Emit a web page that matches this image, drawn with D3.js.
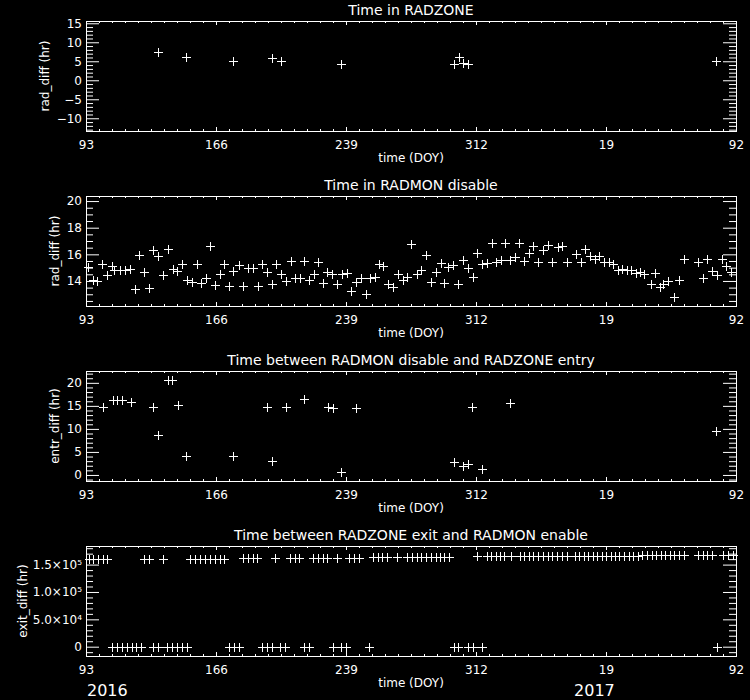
<!DOCTYPE html>
<html>
<head>
<meta charset="utf-8">
<script src="https://cdn.jsdelivr.net/npm/d3@7"></script>
<style>
  body { margin: 0; background: #000; }
  svg { display: block; }
</style>
</head>
<body>
<svg id="chart"></svg>
<script>
// x values are day numbers counted from 2016 Jan 0 (anything past 366 is 2017)
const xTickDays = [93, 166, 239, 312, 385, 458];
const xTickLabels = ["93", "166", "239", "312", "19", "92"];
const yearLabels = ["2016", "2017"];
const yearStartDays = [93, 366.5];

// Time in RADZONE
const radzoneDays = [133.6, 149.3, 175.7, 197.3, 202.5, 236.2, 299.6, 302.4, 304.9, 307.7, 446.7];
const radzoneHours = [7.4, 6.2, 5.0, 5.9, 5.0, 4.2, 4.2, 6.2, 4.5, 4.2, 5.0];

// Time in RADMON disable
const radmonDays = [94.3, 97.1, 99.3, 102.2, 104.6, 107.4, 108.7, 112.1, 114.9, 117.7,
  120.5, 122.9, 125.7, 128.5, 130.8, 133.6, 136.4, 139.2, 141.7, 144.3,
  147.1, 149.5, 152.4, 155.2, 157.4, 160.2, 162.6, 165.4, 168.2, 170.7,
  173.5, 175.7, 178.9, 181.3, 184.1, 186.9, 189.4, 191.7, 194.5, 197.3,
  199.7, 202.3, 205.1, 207.9, 210.4, 213.2, 215.6, 218.4, 221.0, 223.4,
  226.2, 228.5, 231.0, 233.8, 236.6, 239.4, 241.6, 244.6, 247.2, 250.1,
  252.5, 255.3, 257.7, 259.9, 262.7, 265.6, 268.4, 271.2, 273.1, 275.5,
  278.7, 281.1, 283.9, 286.6, 289.4, 292.2, 294.2, 296.4, 299.2, 302.1,
  304.9, 307.7, 310.1, 312.7, 315.5, 318.0, 320.8, 323.2, 326.0, 328.3,
  331.1, 333.9, 336.3, 339.1, 341.7, 344.2, 347.0, 349.4, 352.2, 354.8,
  357.9, 360.4, 362.9, 368.1, 370.8, 373.2, 376.0, 378.8, 381.2, 384.0,
  386.7, 389.1, 391.6, 394.1, 396.6, 399.0, 401.7, 404.1, 406.5, 410.2,
  412.5, 415.3, 417.2, 420.0, 423.3, 426.1, 429.0, 436.8, 439.3, 441.9,
  444.3, 447.1, 450.0, 452.4, 455.2];
const radmonHours = [15.07, 14.07, 14.0, 15.3, 14.45, 15.1, 14.85, 14.82, 14.82, 14.87,
  13.38, 15.95, 14.65, 13.45, 16.3, 15.87, 14.45, 16.4, 14.87, 14.75,
  15.25, 14.07, 13.9, 15.25, 13.87, 14.25, 16.65, 13.7, 14.5, 15.27,
  13.63, 14.75, 15.2, 13.63, 14.95, 14.95, 13.65, 15.25, 14.7, 13.78,
  15.3, 14.5, 14.0, 15.47, 14.25, 14.2, 15.5, 14.07, 14.5, 15.4,
  13.87, 14.7, 14.5, 13.78, 14.5, 14.62, 13.27, 13.95, 14.2, 13.03,
  14.25, 14.32, 15.3, 15.1, 13.78, 13.57, 14.5, 14.07, 14.32, 16.75,
  14.5, 14.82, 15.95, 13.9, 14.7, 15.33, 13.83, 15.07, 15.2, 13.78,
  15.57, 15.0, 14.32, 16.07, 15.25, 15.37, 16.82, 15.4, 15.57, 16.87,
  15.57, 15.82, 16.87, 15.52, 16.07, 16.62, 15.4, 16.32, 16.7, 15.4,
  16.57, 16.65, 15.4, 16.0, 15.4, 16.4, 15.87, 15.62, 15.87, 15.4,
  15.4, 15.25, 14.82, 14.87, 14.82, 14.82, 14.62, 14.7, 14.5, 13.78,
  14.62, 13.57, 13.78, 14.02, 12.78, 14.07, 15.62, 15.4, 14.2, 15.62,
  14.77, 14.45, 15.62, 15.15, 14.7];

// Time between RADMON disable and RADZONE entry
const entryDays = [102.4, 108.0, 110.6, 113.0, 118.1, 130.8, 133.6, 139.2, 141.5, 144.5,
  149.2, 175.7, 194.5, 197.3, 205.1, 215.6, 229.1, 231.9, 236.2, 244.4,
  299.6, 304.5, 307.7, 309.9, 315.5, 331.1, 446.7];
const entryHours = [14.76, 16.36, 16.36, 16.36, 15.85, 14.76, 8.72, 20.7, 20.7, 15.27,
  4.14, 4.14, 14.76, 3.12, 14.76, 16.58, 14.76, 14.55, 0.72, 14.55,
  2.9, 1.96, 2.4, 14.76, 1.24, 15.64, 9.6];

// Time between RADZONE exit and RADMON enable
const exitDays = [94.9, 97.1, 99.9, 102.4, 104.6, 125.7, 128.4, 136.4,
  151.4, 154.2, 157.0, 159.8, 162.6, 165.4, 168.2, 170.7,
  181.3, 184.1, 186.6, 189.2, 199.1, 207.5, 210.4, 212.8, 220.6, 223.4, 225.9, 228.5, 233.8, 240.8, 243.5, 246.3,
  254.3, 256.8, 259.4, 261.8, 267.5, 273.1, 276.2, 278.7, 281.1, 283.7, 286.7, 289.4, 291.8, 294.2, 296.8,
  312.4, 318.0, 320.4, 323.0, 325.5, 327.9,
  331.6, 336.7, 339.1, 341.7, 344.2, 347.0, 349.4, 352.2, 354.8, 357.3, 360.1, 362.9,
  367.6, 370.0, 372.6, 375.1, 377.5, 380.1, 382.6, 385.0, 387.6, 390.0, 392.5, 395.3, 397.9, 400.3, 402.8,
  405.4, 408.2, 410.6, 413.1, 415.7, 418.1, 420.9, 423.3, 426.0, 428.8,
  436.8, 439.3, 441.9, 444.3, 450.5, 453.3, 456.5,
  107.8, 110.2, 113.0, 115.8, 118.7, 121.1, 123.7, 130.4, 133.3, 138.6,
  141.5, 143.9, 146.7, 149.5, 173.5, 176.1, 178.9, 191.7, 194.5, 197.3,
  201.9, 204.7, 215.6, 218.4, 231.9, 236.0, 238.8, 252.1, 299.8, 302.1,
  307.7, 310.5, 315.5, 447.1];
const exitHours = [161000, 161000, 161000, 161000, 161000, 161000, 161000, 161000,
  161000, 161000, 161000, 161000, 161000, 161000, 161000, 161000,
  162300, 162300, 162300, 162300, 162300, 162300, 162300, 162300, 162300, 162300, 162300, 162300, 162300, 162300, 162300, 162300,
  164100, 164100, 164100, 164100, 164100, 164100, 164100, 164100, 164100, 164100, 164100, 164100, 164100, 164100, 164100,
  165000, 165000, 165000, 165000, 165000, 165000,
  166000, 166000, 166000, 166000, 166000, 166000, 166000, 166000, 166000, 166000, 166000, 166000,
  166500, 166500, 166500, 166500, 166500, 166500, 166500, 166500, 166500, 166500, 166500, 166500, 166500, 166500, 166500,
  168000, 168000, 168000, 168000, 168000, 168000, 168000, 168000, 168000, 168000,
  168400, 168400, 168400, 168400, 168400, 168400, 168400,
  0, 0, 0, 0, 0, 0, 0, 0, 0, 0,
  0, 0, 0, 0, 0, 0, 0, 0, 0, 0,
  0, 0, 0, 0, 0, 0, 0, 0, 0, 0,
  0, 0, 0, 0];

const minus = d => d < 0 ? "\u2212" + (-d) : String(d);
const sup = { 4: "\u2074", 5: "\u2075" };
const sciFmt = d => {
  if (d === 0) return "0";
  const e = Math.floor(Math.log10(d));
  return (d / Math.pow(10, e)).toFixed(1) + "\u00d710" + sup[e];
};

const panels = [
  { title: "Time in RADZONE", ylabel: "rad_diff (hr)", days: radzoneDays, values: radzoneHours,
    yDomain: [-13.35, 15.6], yMajor: [-10, -5, 0, 5, 10, 15], yMinorStep: 1, fmt: minus, ylabelX: 45 },
  { title: "Time in RADMON disable", ylabel: "rad_diff (hr)", days: radmonDays, values: radmonHours,
    yDomain: [12.12, 20.38], yMajor: [14, 16, 18, 20], yMinorStep: 0.5, fmt: minus, ylabelX: 55 },
  { title: "Time between RADMON disable and RADZONE entry", ylabel: "entr_diff (hr)", days: entryDays, values: entryHours,
    yDomain: [-1.31, 22.57], yMajor: [0, 5, 10, 15, 20], yMinorStep: 1, fmt: minus, ylabelX: 55 },
  { title: "Time between RADZONE exit and RADMON enable", ylabel: "exit_diff (hr)", days: exitDays, values: exitHours,
    yDomain: [-17000, 184000], yMajor: [0, 50000, 100000, 150000], yMinorStep: 10000, fmt: sciFmt, ylabelX: 23 }
];

const width = 750, height = 700;
const left = 86, right = 736, boxH = 110;
const tops = [21, 196, 371, 546];

const svg = d3.select('#chart').attr('width', width).attr('height', height);
svg.append('rect').attr('width', width).attr('height', height).attr('fill', '#000');

const x = d3.scaleLinear().domain([93, 458]).range([left, right]);
const xMinor = d3.range(93, 458.01, 7.3).filter(d => !xTickDays.some(t => Math.abs(t - d) < 0.1));

function styleAxis(g) {
  g.attr('color', '#fff').attr('font-family', '"DejaVu Sans", sans-serif').attr('font-size', 12);
  g.select('.domain').remove();
}

function drawPanel(p, top) {
  const g = svg.append('g');
  const bottom = top + boxH;
  const y = d3.scaleLinear().domain(p.yDomain).range([bottom, top]);
  const yMinor = d3.range(Math.ceil(p.yDomain[0] / p.yMinorStep) * p.yMinorStep, p.yDomain[1], p.yMinorStep)
    .filter(d => !p.yMajor.some(t => Math.abs(t - d) < 1e-6));

  // x axes (bottom with labels, top plain)
  g.append('g').attr('transform', `translate(0,${bottom})`)
    .call(d3.axisBottom(x).tickValues(xTickDays).tickSize(-4).tickPadding(9)
      .tickFormat((d, i) => xTickLabels[i]))
    .call(styleAxis);
  g.append('g').attr('transform', `translate(0,${bottom})`)
    .call(d3.axisBottom(x).tickValues(xMinor).tickSize(-2).tickFormat(''))
    .call(styleAxis);
  g.append('g').attr('transform', `translate(0,${top})`)
    .call(d3.axisTop(x).tickValues(xTickDays).tickSize(-4).tickFormat(''))
    .call(styleAxis);
  g.append('g').attr('transform', `translate(0,${top})`)
    .call(d3.axisTop(x).tickValues(xMinor).tickSize(-2).tickFormat(''))
    .call(styleAxis);

  // y axes (left with labels, right plain)
  g.append('g').attr('transform', `translate(${left},0)`)
    .call(d3.axisLeft(y).tickValues(p.yMajor).tickSize(-13).tickPadding(4).tickFormat(p.fmt))
    .call(styleAxis);
  g.append('g').attr('transform', `translate(${left},0)`)
    .call(d3.axisLeft(y).tickValues(yMinor).tickSize(-7).tickFormat(''))
    .call(styleAxis);
  g.append('g').attr('transform', `translate(${right},0)`)
    .call(d3.axisRight(y).tickValues(p.yMajor).tickSize(-13).tickFormat(''))
    .call(styleAxis);
  g.append('g').attr('transform', `translate(${right},0)`)
    .call(d3.axisRight(y).tickValues(yMinor).tickSize(-7).tickFormat(''))
    .call(styleAxis);

  // plot box
  g.append('rect')
    .attr('x', left + 0.5).attr('y', top + 0.5)
    .attr('width', right - left).attr('height', boxH)
    .attr('fill', 'none').attr('stroke', '#fff').attr('shape-rendering', 'crispEdges');

  // titles
  g.append('text')
    .attr('x', (left + right) / 2).attr('y', top - 6)
    .attr('text-anchor', 'middle')
    .attr('font-family', '"DejaVu Sans", sans-serif').attr('font-size', 14)
    .attr('fill', '#fff')
    .text(p.title);
  g.append('text')
    .attr('x', (left + right) / 2).attr('y', bottom + 31)
    .attr('text-anchor', 'middle')
    .attr('font-family', '"DejaVu Sans", sans-serif').attr('font-size', 12)
    .attr('fill', '#fff')
    .text('time (DOY)');
  g.append('text')
    .attr('transform', `translate(${p.ylabelX},${top + boxH / 2}) rotate(-90)`)
    .attr('text-anchor', 'middle').attr('dy', '0.35em')
    .attr('font-family', '"DejaVu Sans", sans-serif').attr('font-size', 12)
    .attr('fill', '#fff')
    .text(p.ylabel);

  // plus markers
  g.append('g')
    .selectAll('path')
    .data(p.days.map((d, i) => [d, p.values[i]]))
    .enter().append('path')
    .attr('transform', d => `translate(${Math.round(x(d[0])) + 0.5},${Math.round(y(d[1])) + 0.5})`)
    .attr('d', 'M-4.5,0H4.5M0,-4.5V4.5')
    .attr('stroke', '#fff')
    .attr('stroke-width', 1)
    .attr('shape-rendering', 'crispEdges');
}

panels.forEach((p, i) => drawPanel(p, tops[i]));

// year labels under the last panel
svg.selectAll('.year')
  .data(yearLabels)
  .enter().append('text')
  .attr('class', 'year')
  .attr('x', (d, i) => x(yearStartDays[i]) + 1)
  .attr('y', 696)
  .attr('font-family', '"DejaVu Sans", sans-serif').attr('font-size', 16)
  .attr('fill', '#fff')
  .text(d => d);
</script>
</body>
</html>
